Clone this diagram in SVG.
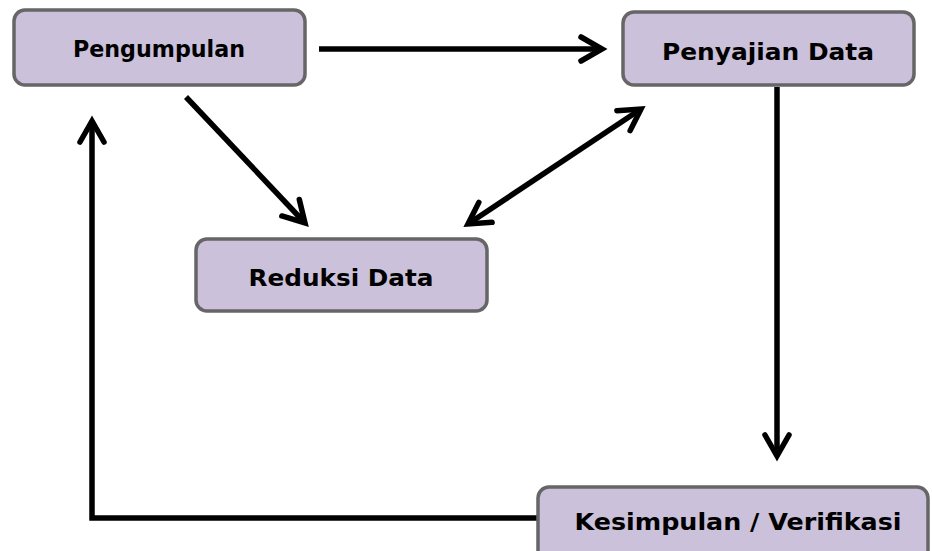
<svg xmlns="http://www.w3.org/2000/svg" width="932" height="551" viewBox="0 0 932 551">
  <defs>
    <style>
      .box { fill: #cbc1da; stroke: #666666; stroke-width: 3.5; }
      .lbl { font-family: "DejaVu Sans", "Liberation Sans", sans-serif; font-weight: bold; font-size: 23px; fill: #000; text-anchor: middle; }
      .con { fill: none; stroke: #000; stroke-width: 5.5; stroke-linecap: butt; stroke-linejoin: miter; }
    </style>
    <marker id="ah" markerUnits="userSpaceOnUse" markerWidth="40" markerHeight="40" viewBox="-30 -20 40 40" refX="0" refY="0" orient="auto-start-reverse">
      <path d="M-21,-12 L0,0 L-21,12" fill="none" stroke="#000" stroke-width="5.5" stroke-linecap="round" stroke-linejoin="miter"/>
    </marker>
  </defs>
  <rect width="932" height="551" fill="#ffffff"/>

  <g id="connectors">
    <line class="con" x1="319" y1="49" x2="602" y2="49" marker-end="url(#ah)"/>
    <line class="con" x1="186" y1="97" x2="305" y2="223" marker-end="url(#ah)"/>
    <line class="con" x1="468" y1="224" x2="641" y2="109" marker-start="url(#ah)" marker-end="url(#ah)"/>
    <line class="con" x1="777" y1="87" x2="777" y2="456" marker-end="url(#ah)"/>
    <polyline class="con" points="538,518 92,518 92,121" marker-end="url(#ah)"/>
  </g>

  <g id="node-pengumpulan">
    <rect class="box" x="14" y="10" width="291" height="75" rx="11"/>
    <text class="lbl" x="159" y="57" textLength="172" lengthAdjust="spacingAndGlyphs">Pengumpulan</text>
  </g>
  <g id="node-penyajian">
    <rect class="box" x="623" y="12" width="291" height="73" rx="11"/>
    <text class="lbl" x="768" y="60" textLength="212" lengthAdjust="spacingAndGlyphs">Penyajian Data</text>
  </g>
  <g id="node-reduksi">
    <rect class="box" x="196" y="239" width="291" height="72" rx="11"/>
    <text class="lbl" x="341" y="286" textLength="185" lengthAdjust="spacingAndGlyphs">Reduksi Data</text>
  </g>
  <g id="node-kesimpulan">
    <rect class="box" x="538" y="487" width="390" height="80" rx="11"/>
    <text class="lbl" x="738" y="530" textLength="327" lengthAdjust="spacingAndGlyphs">Kesimpulan / Verifikasi</text>
  </g>
</svg>
